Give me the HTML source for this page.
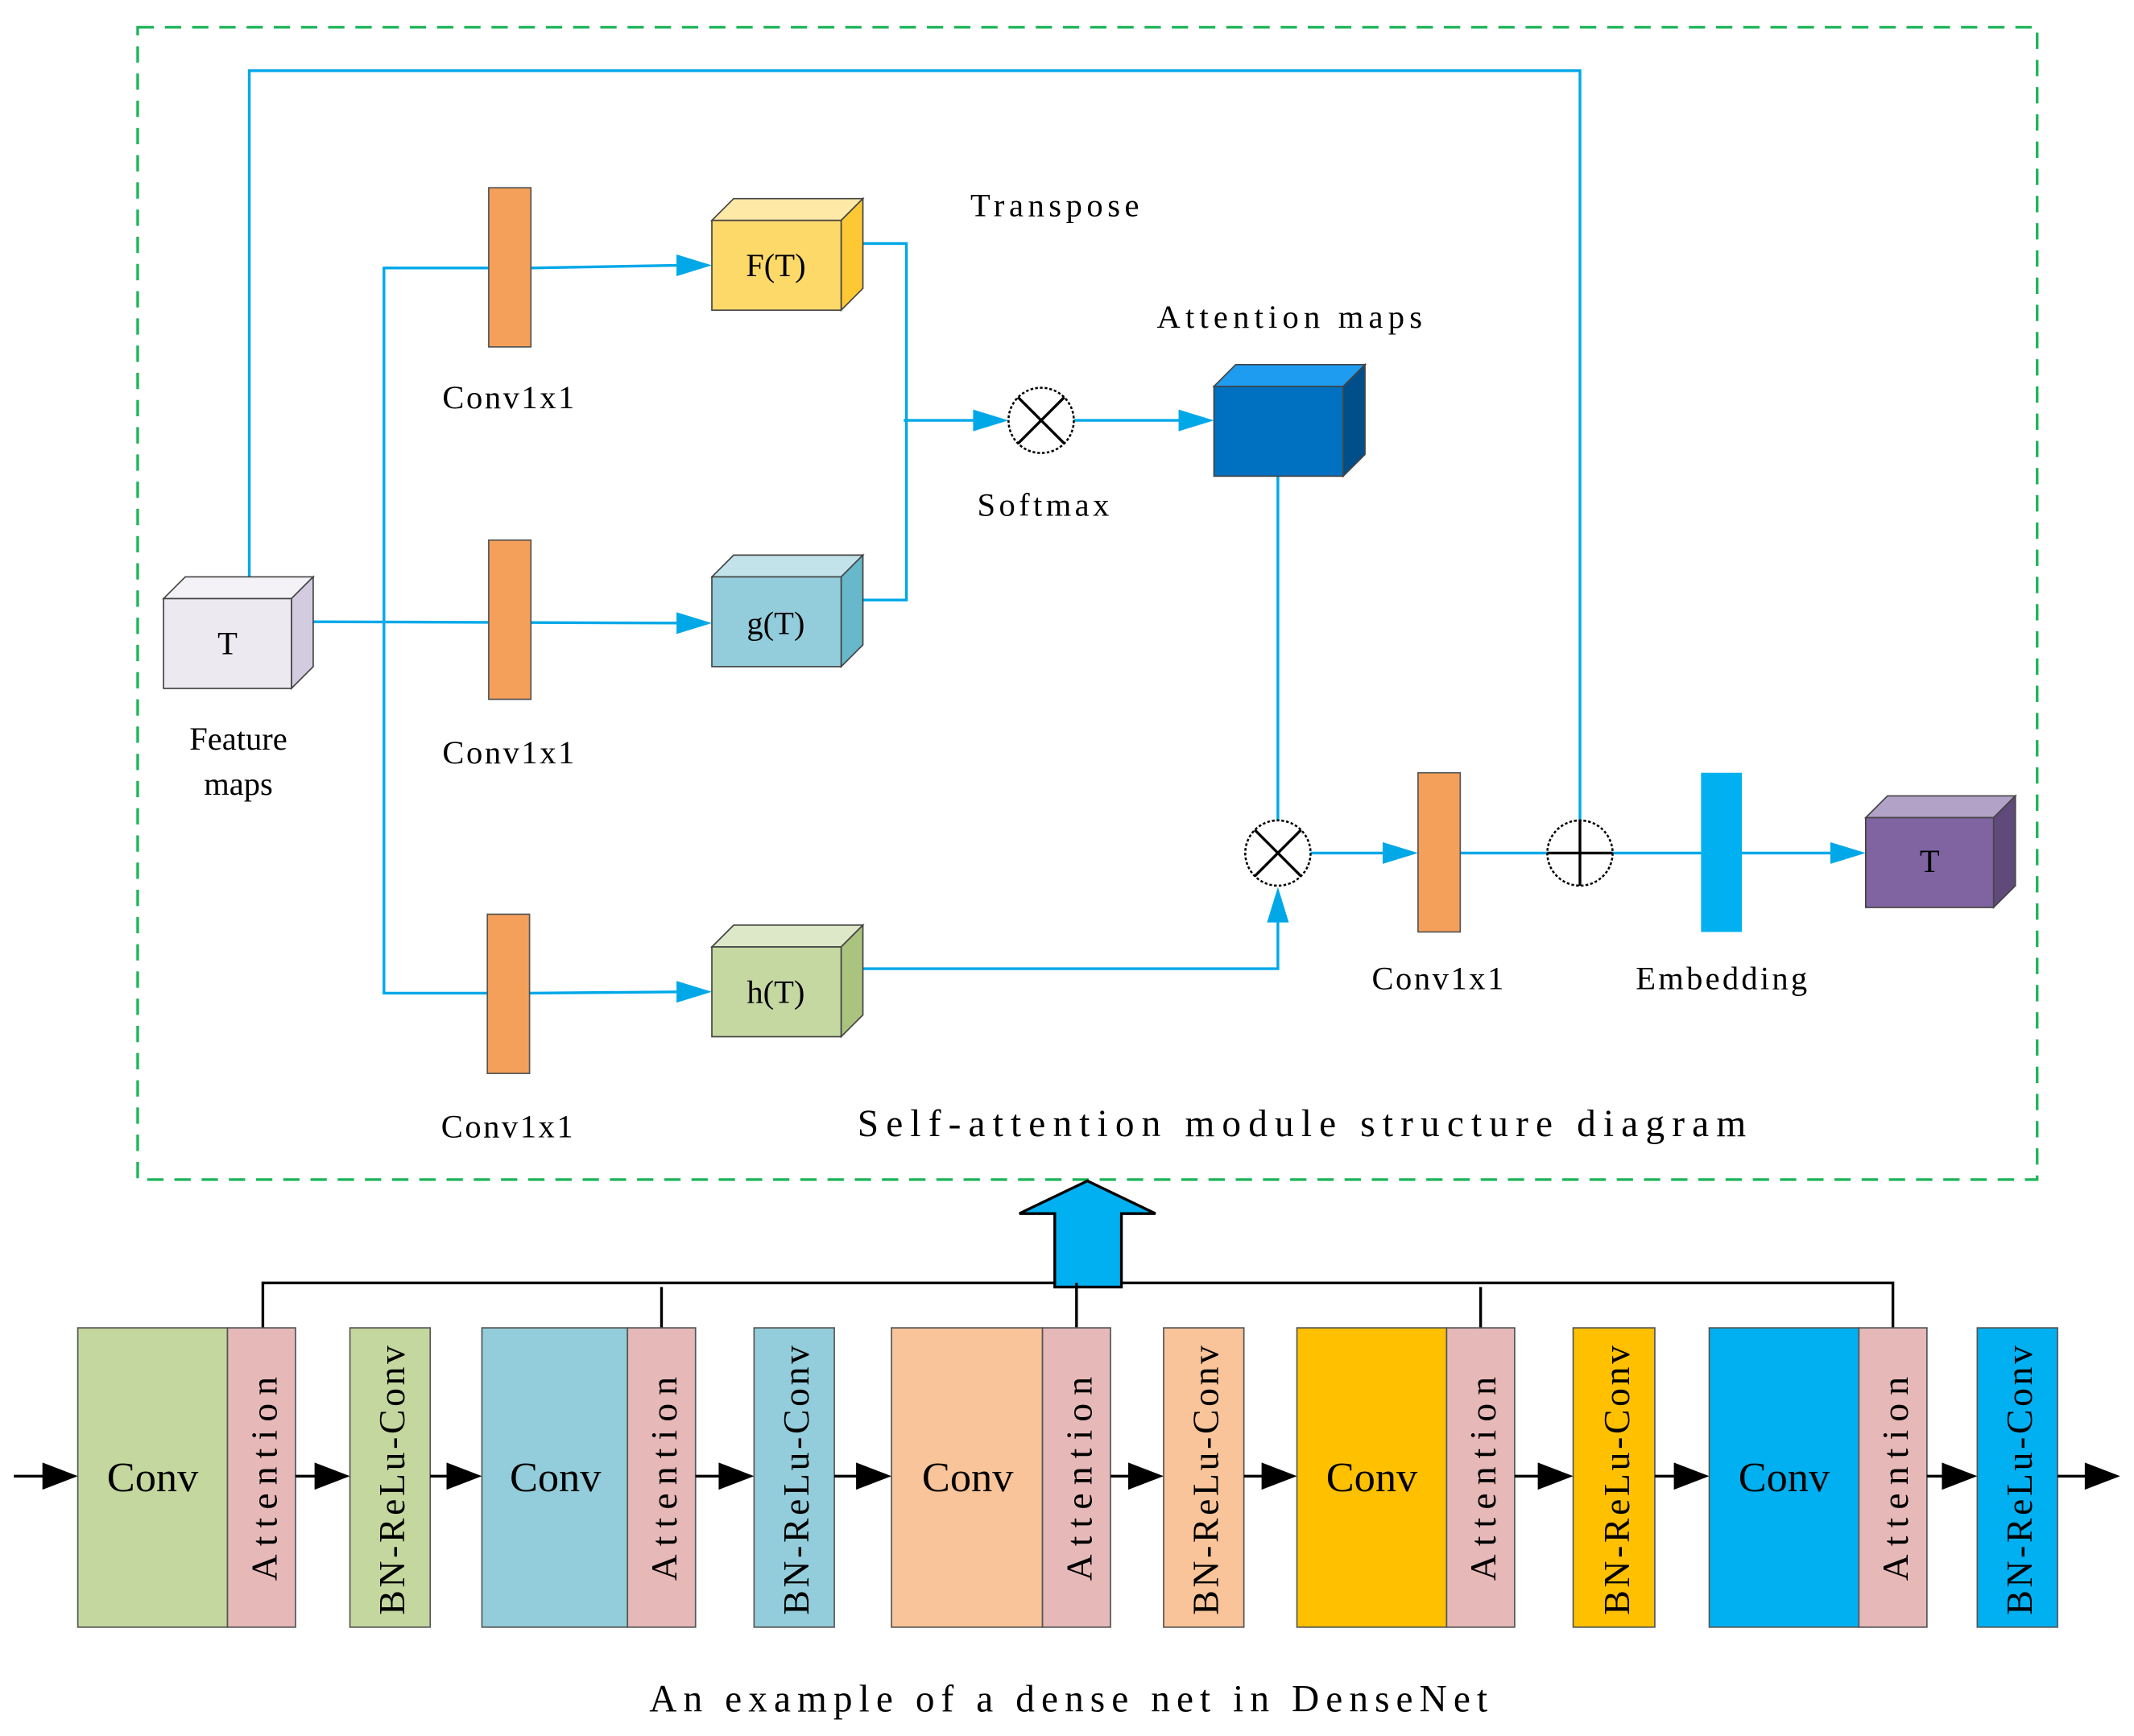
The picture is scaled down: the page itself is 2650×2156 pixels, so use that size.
<!DOCTYPE html>
<html><head><meta charset="utf-8"><style>
html,body{margin:0;padding:0;background:#fff}
svg{display:block}
text{font-family:"Liberation Serif","Noto Serif CJK SC",serif;fill:#000}
</style></head><body>
<svg width="2650" height="2156" viewBox="0 0 1568 1276" xmlns="http://www.w3.org/2000/svg">
<defs>
<marker id="ab" markerWidth="10" markerHeight="8" refX="9" refY="4" orient="auto" markerUnits="userSpaceOnUse"><path d="M0,0 L0,0" /></marker>
</defs>
<rect x="101" y="20" width="1396" height="847" fill="none" stroke="#1fb55a" stroke-width="2" stroke-dasharray="12,8"/>

<g stroke="#00a8e8" stroke-width="2" fill="none">
<polyline points="183,424 183,52 1161,52 1161,651"/>
<polyline points="359,197 282,197 282,730 358,730"/>
<polyline points="390,197 500,195"/>
<polyline points="230,457 500,458"/>
<polyline points="389,730 500,729"/>
<polyline points="634,179 666,179 666,441 634,441"/>
<polyline points="664,309 718,309"/>
<polyline points="789,309 870,309"/>
<polyline points="939,350 939,603"/>
<polyline points="634,712 939,712 939,675"/>
<polyline points="963,627 1020,627"/>
<polyline points="1073,627 1137,627"/>
<polyline points="1185,627 1250,627"/>
<polyline points="1280,627 1350,627"/>
</g>
<g fill="#00a8e8">
<path d="M523,195 l-26,-8 v16z"/>
<path d="M523,458 l-26,-8 v16z"/>
<path d="M523,729 l-26,-8 v16z"/>
<path d="M741,309 l-26,-8 v16z"/>
<path d="M892,309 l-26,-8 v16z"/>
<path d="M939,652 l-8,26 h16z"/>
<path d="M1042,627 l-26,-8 v16z"/>
<path d="M1371,627 l-26,-8 v16z"/>
</g>

<!-- orange bars -->
<g fill="#f4a05a" stroke="#555" stroke-width="1">
<rect x="359" y="138" width="31" height="117"/>
<rect x="359" y="397" width="31" height="117"/>
<rect x="358" y="672" width="31" height="117"/>
<rect x="1042" y="568" width="31" height="117"/>
</g>
<rect x="1250" y="568" width="30" height="117" fill="#00b0f0"/>

<!-- cubes -->
<g stroke="#444" stroke-width="1">
<path d="M120,440 l16,-16 h94 l-16,16z" fill="#f4f2f7"/><path d="M214,440 l16,-16 v66 l-16,16z" fill="#d3cce0"/><rect x="120" y="440" width="94" height="66" fill="#ece9f0"/>
<path d="M523,162 l16,-16 h95 l-16,16z" fill="#fee9a6"/><path d="M618,162 l16,-16 v66 l-16,16z" fill="#fdc833"/><rect x="523" y="162" width="95" height="66" fill="#fdd96a"/>
<path d="M523,424 l16,-16 h95 l-16,16z" fill="#c3e3ea"/><path d="M618,424 l16,-16 v66 l-16,16z" fill="#68b8cb"/><rect x="523" y="424" width="95" height="66" fill="#93cddb"/>
<path d="M523,696 l16,-16 h95 l-16,16z" fill="#dde8c8"/><path d="M618,696 l16,-16 v66 l-16,16z" fill="#aac47f"/><rect x="523" y="696" width="95" height="66" fill="#c5d8a2"/>
<path d="M892,284 l16,-16 h95 l-16,16z" fill="#1e9cf0"/><path d="M987,284 l16,-16 v66 l-16,16z" fill="#004f8a"/><rect x="892" y="284" width="95" height="66" fill="#0070c0"/>
<path d="M1371,601 l16,-16 h94 l-16,16z" fill="#b3a2c7"/><path d="M1465,601 l16,-16 v66 l-16,16z" fill="#604a7b"/><rect x="1371" y="601" width="94" height="66" fill="#8064a2"/>
</g>

<!-- circles -->
<g fill="#fff" stroke="#000" stroke-width="1.5">
<circle cx="765" cy="309" r="24" stroke-dasharray="2,1.5"/>
<circle cx="939" cy="627" r="24" stroke-dasharray="2,1.5"/>
<circle cx="1161" cy="627" r="24" stroke-dasharray="2,1.5"/>
</g>
<g stroke="#000" stroke-width="2">
<path d="M748,292 l34,34 M782,292 l-34,34"/>
<path d="M922,610 l34,34 M956,610 l-34,34"/>
<path d="M1137,627 h48 M1161,603 v48"/>
</g>

<g font-size="24">
<text x="167" y="481" text-anchor="middle">T</text>
<text x="570" y="203" text-anchor="middle">F(T)</text>
<text x="570" y="466" text-anchor="middle">g(T)</text>
<text x="570" y="737" text-anchor="middle">h(T)</text>
<text x="1418" y="641" text-anchor="middle" fill="#111">T</text>
<text x="713" y="159" textLength="124">Transpose</text>
<text x="850" y="241" textLength="195">Attention maps</text>
<text x="718" y="379" textLength="97">Softmax</text>
<text x="175" y="551" text-anchor="middle">Feature</text>
<text x="175" y="584" text-anchor="middle">maps</text>
<text x="325" y="300" textLength="97">Conv1x1</text>
<text x="325" y="561" textLength="97">Conv1x1</text>
<text x="324" y="836" textLength="97">Conv1x1</text>
<text x="1008" y="727" textLength="97">Conv1x1</text>
<text x="1202" y="727" textLength="126">Embedding</text>
</g>
<text x="630" y="835" font-size="28" textLength="653">Self-attention module structure diagram</text>

<!-- bottom -->
<path d="M775,946 V892 H749 L799,868 L849,892 H824 V946 Z" fill="#00b0f0" stroke="#000" stroke-width="2"/>
<g stroke="#000" stroke-width="2" fill="none">
<polyline points="193,976 193,943 775,943"/>
<polyline points="824,943 1391,943 1391,976"/>
<path d="M486,946 V976 M791,943 V976 M1088,946 V976"/>
</g>

<g stroke="#555" stroke-width="1">
<rect x="57" y="976" width="110" height="220" fill="#c4d79f"/><rect x="167" y="976" width="50" height="220" fill="#e6b9b8"/><rect x="257" y="976" width="59" height="220" fill="#c4d79f"/>
<rect x="354" y="976" width="107" height="220" fill="#93cddb"/><rect x="461" y="976" width="50" height="220" fill="#e6b9b8"/><rect x="554" y="976" width="59" height="220" fill="#93cddb"/>
<rect x="655" y="976" width="111" height="220" fill="#f9c499"/><rect x="766" y="976" width="50" height="220" fill="#e6b9b8"/><rect x="855" y="976" width="59" height="220" fill="#f9c499"/>
<rect x="953" y="976" width="110" height="220" fill="#ffc000"/><rect x="1063" y="976" width="50" height="220" fill="#e6b9b8"/><rect x="1156" y="976" width="60" height="220" fill="#ffc000"/>
<rect x="1256" y="976" width="110" height="220" fill="#00b0f0"/><rect x="1366" y="976" width="50" height="220" fill="#e6b9b8"/><rect x="1453" y="976" width="59" height="220" fill="#00b0f0"/>
</g>

<g stroke="#000" stroke-width="2">
<path d="M10,1085 H35 M217,1085 H235 M316,1085 H333 M511,1085 H532 M613,1085 H633 M816,1085 H833 M914,1085 H931 M1113,1085 H1134 M1216,1085 H1234 M1416,1085 H1431 M1512,1085 H1536"/>
</g>
<g fill="#000">
<path d="M57,1085 l-26,-10 v20z"/><path d="M257,1085 l-26,-10 v20z"/><path d="M354,1085 l-26,-10 v20z"/>
<path d="M554,1085 l-26,-10 v20z"/><path d="M655,1085 l-26,-10 v20z"/><path d="M855,1085 l-26,-10 v20z"/>
<path d="M953,1085 l-26,-10 v20z"/><path d="M1156,1085 l-26,-10 v20z"/><path d="M1256,1085 l-26,-10 v20z"/>
<path d="M1453,1085 l-26,-10 v20z"/><path d="M1558,1085 l-26,-10 v20z"/>
</g>

<g font-size="31" text-anchor="middle">
<text x="112" y="1096">Conv</text>
<text x="408" y="1096">Conv</text>
<text x="711" y="1096">Conv</text>
<text x="1008" y="1096">Conv</text>
<text x="1311" y="1096">Conv</text>
</g>
<g font-size="27">
<text transform="translate(203,1162) rotate(-90)" textLength="150">Attention</text>
<text transform="translate(497,1162) rotate(-90)" textLength="150">Attention</text>
<text transform="translate(802,1162) rotate(-90)" textLength="150">Attention</text>
<text transform="translate(1099,1162) rotate(-90)" textLength="150">Attention</text>
<text transform="translate(1402,1162) rotate(-90)" textLength="150">Attention</text>
<text transform="translate(297,1187) rotate(-90)" textLength="198">BN-ReLu-Conv</text>
<text transform="translate(594,1187) rotate(-90)" textLength="198">BN-ReLu-Conv</text>
<text transform="translate(895,1187) rotate(-90)" textLength="198">BN-ReLu-Conv</text>
<text transform="translate(1197,1187) rotate(-90)" textLength="198">BN-ReLu-Conv</text>
<text transform="translate(1493,1187) rotate(-90)" textLength="198">BN-ReLu-Conv</text>
</g>
<text x="477" y="1258" font-size="28" textLength="616">An example of a dense net in DenseNet</text>
</svg>
</body></html>
